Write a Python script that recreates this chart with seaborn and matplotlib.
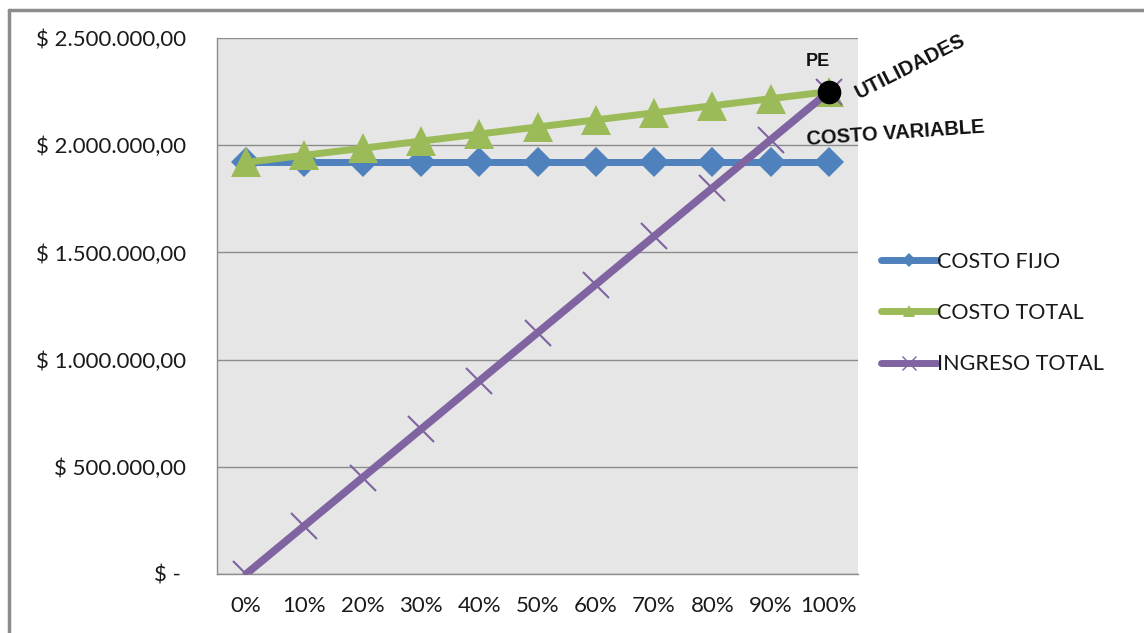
import matplotlib
matplotlib.use("Agg")
import matplotlib.pyplot as plt
import matplotlib.ticker as mticker
from matplotlib.lines import Line2D
import numpy as np
import pandas as pd
import seaborn as sns

# Niveles de producción y valores del punto de equilibrio
niveles = ["0%", "10%", "20%", "30%", "40%", "50%", "60%", "70%", "80%", "90%", "100%"]
costo_fijo = [1920000] * 11
costo_total = [1920000, 1953000, 1986000, 2019000, 2052000, 2085000,
               2118000, 2151000, 2184000, 2217000, 2250000]
ingreso_total = [0, 225000, 450000, 675000, 900000, 1125000,
                 1350000, 1575000, 1800000, 2025000, 2250000]
y_ticks = [0, 500000, 1000000, 1500000, 2000000, 2500000]

AZUL = "#4F81BD"
VERDE = "#9BBB59"
MORADO = "#8064A2"

sns.set_theme(style="white")
plt.rcParams["font.family"] = ["Lato", "DejaVu Sans"]

df = pd.DataFrame({
    "pos": np.arange(len(niveles)),
    "COSTO FIJO": costo_fijo,
    "COSTO TOTAL": costo_total,
    "INGRESO TOTAL": ingreso_total,
})

fig = plt.figure(figsize=(11.44, 6.33), dpi=100)
ax = fig.add_axes([217 / 1144, 1 - 574 / 633, (858 - 217) / 1144, (574 - 38) / 633])
ax.set_facecolor("#E6E6E6")

sns.lineplot(data=df, x="pos", y="COSTO FIJO", ax=ax, color=AZUL, lw=5,
             marker="D", markersize=15, markeredgewidth=0, zorder=3)
sns.lineplot(data=df, x="pos", y="COSTO TOTAL", ax=ax, color=VERDE, lw=5,
             marker="^", markersize=21, markeredgewidth=0, zorder=4)
sns.lineplot(data=df, x="pos", y="INGRESO TOTAL", ax=ax, color=MORADO, lw=5.5,
             marker="x", markersize=19, markeredgewidth=1.5,
             markeredgecolor=MORADO, zorder=5)

# Punto de equilibrio
pe_x, pe_y = df["pos"].iloc[-1], ingreso_total[-1]
ax.plot([pe_x], [pe_y], "o", color="black", markersize=16, zorder=6)
ax.annotate("PE", xy=(pe_x, pe_y), xytext=(-11, 30), textcoords="offset pixels",
            ha="center", va="center", fontsize=13, fontweight="bold",
            family="Liberation Sans", color="#111111")
ax.annotate("UTILIDADES", xy=(pe_x, pe_y), xytext=(81, 25), textcoords="offset pixels",
            ha="center", va="center", fontsize=14.5, fontweight="bold",
            family="Liberation Sans", rotation=27, rotation_mode="anchor",
            annotation_clip=False, color="#111111")
ax.annotate("COSTO VARIABLE", xy=(pe_x, pe_y), xytext=(67, -42), textcoords="offset pixels",
            ha="center", va="center", fontsize=14.5, fontweight="bold",
            family="Liberation Sans", rotation=4, rotation_mode="anchor",
            annotation_clip=False, color="#111111")

# Ejes
ax.set_xlim(-0.5, len(niveles) - 0.5)
ax.set_ylim(0, 2500000)
ax.set_xticks(np.arange(len(niveles)))
ax.set_xticklabels(niveles)
ax.set_xticks(np.arange(-0.5, len(niveles)), minor=True)
ax.set_yticks(y_ticks)

def moneda(v, _):
    if v == 0:
        return "$ - "
    return "$ " + f"{v:,.2f}".replace(",", "X").replace(".", ",").replace("X", ".")

ax.yaxis.set_major_formatter(mticker.FuncFormatter(moneda))
ax.set_xlabel("")
ax.set_ylabel("")
ax.tick_params(axis="x", which="major", length=0, pad=16, labelsize=16, colors="#1A1A1A")
ax.tick_params(axis="x", which="minor", length=7, width=1, color="#8C8C8C", direction="out")
ax.tick_params(axis="y", which="major", length=8, width=1, color="#8C8C8C",
               direction="out", pad=14, labelsize=16, labelcolor="#1A1A1A")
ax.grid(axis="y", color="#8C8C8C", lw=1)
ax.set_axisbelow(True)
for side in ("top", "right"):
    ax.spines[side].set_visible(False)
for side in ("left", "bottom"):
    ax.spines[side].set_color("#8C8C8C")
    ax.spines[side].set_linewidth(1)

handles = [
    Line2D([], [], color=AZUL, lw=5, marker="D", markersize=7, markeredgewidth=0,
           solid_capstyle="round"),
    Line2D([], [], color=VERDE, lw=5, marker="^", markersize=9, markeredgewidth=0,
           solid_capstyle="round"),
    Line2D([], [], color=MORADO, lw=5, marker="x", markersize=10, markeredgewidth=1,
           markeredgecolor=MORADO, solid_capstyle="round"),
]
fig.legend(handles, ["COSTO FIJO", "COSTO TOTAL", "INGRESO TOTAL"],
           loc="center left", bbox_to_anchor=(872 / 1144, 1 - 313 / 633),
           frameon=False, fontsize=15.5, handlelength=2.6, handletextpad=0.0,
           labelspacing=1.45, borderaxespad=0, labelcolor="#1A1A1A")

# Marco exterior
fig.add_artist(Line2D([9 / 1144, 9 / 1144], [0, 1 - 10 / 633], transform=fig.transFigure,
                      color="#8C8C8C", lw=2.5))
fig.add_artist(Line2D([9 / 1144, 1], [1 - 10 / 633, 1 - 10 / 633], transform=fig.transFigure,
                      color="#8C8C8C", lw=2.5))

fig.savefig("out.png", dpi=100)
